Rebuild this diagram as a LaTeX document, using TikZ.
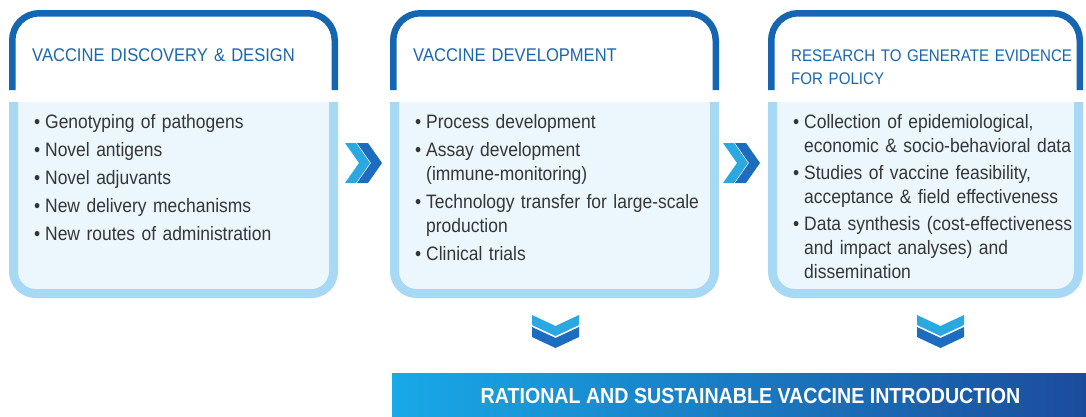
\documentclass[tikz,border=0pt]{standalone}
\usepackage{fontspec}
\setmainfont{Liberation Sans}[FakeStretch=0.9]

\definecolor{hdblue}{HTML}{1565B0}
\definecolor{hdtext}{HTML}{1A66AE}
\definecolor{bdblue}{HTML}{A8D9F4}
\definecolor{bdfill}{HTML}{EBF6FD}
\definecolor{txgray}{HTML}{363636}
\definecolor{chvlight}{HTML}{2AA8E2}
\definecolor{chvdark}{HTML}{1C6CC0}
\definecolor{barleft}{HTML}{18A9E8}
\definecolor{barmid}{HTML}{1C90D8}
\definecolor{barright}{HTML}{1B4C9C}

% narrower word gaps
\newcommand{\tightsp}{\spaceskip 0.21em\relax}
% one bullet line, wrapped lines hang under the text
\newcommand{\itm}[1]{\hangindent=11pt\hangafter=1\noindent\makebox[11pt][l]{\textbullet}#1\par}

\tikzset{
  fwd/.pic={
    \fill[chvlight](0,0)--(11,0)--(25,20)--(11,40)--(0,40)--(14,20)--cycle;
    \fill[chvdark](12,0)--(23,0)--(37,20)--(23,40)--(12,40)--(26,20)--cycle;},
  dwn/.pic={
    \fill[chvlight](0,0)--(23.5,11)--(47,0)--(47,10)--(23.5,21)--(0,10)--cycle;
    \fill[chvdark](0,12)--(23.5,23)--(47,12)--(47,22)--(23.5,33)--(0,22)--cycle;}
}

\begin{document}
\begin{tikzpicture}[x=1pt,y=-1pt,
  head/.style={draw=hdblue,line width=6.5pt,rounded corners=27pt},
  frame/.style={draw=bdblue,fill=bdfill,line width=9pt,rounded corners=22pt},
  title/.style={anchor=base west,inner sep=0pt,text width=320pt,align=left,text=hdtext,font={\fontsize{18.4}{23}\selectfont\tightsp}},
  items/.style={anchor=base west,inner sep=0pt,text width=300pt,align=left,text=txgray,font={\fontsize{19.4}{24}\selectfont\tightsp}},
  bartext/.style={inner sep=0pt,text=white,font=\fontsize{21.8}{26}\selectfont\bfseries}]
\useasboundingbox(0,0)rectangle(1086,416);
\fill[white](0,0)rectangle(1086,416);
% the three stages: blue title frame over a pale list panel
\foreach \l/\r in {9/338,390/719,768/1083}{
  \filldraw[frame](\l+4.5,102)--(\l+4.5,293.5)--(\r-4.5,293.5)--(\r-4.5,102);
  \draw[head](\l+3.25,90)--(\l+3.25,13.25)--(\r-3.25,13.25)--(\r-3.25,90);
}
\node[title](discovery)at(32,61){VACCINE DISCOVERY \& DESIGN};
\node[title](development)at(413,61){VACCINE DEVELOPMENT};
\node[title,font={\fontsize{16.8}{23}\selectfont\tightsp}](evidence)at(791,61){RESEARCH TO GENERATE EVIDENCE\newline FOR POLICY};

\node[items](discovery-list)at(34,128){%
  \setlength{\parskip}{4pt}%
  \itm{Genotyping of pathogens}
  \itm{Novel antigens}
  \itm{Novel adjuvants}
  \itm{New delivery mechanisms}
  \itm{New routes of administration}};
\node[items](development-list)at(415,128){%
  \setlength{\parskip}{4pt}%
  \itm{Process development}
  \itm{Assay development\newline (immune-monitoring)}
  \itm{Technology transfer for large-scale\newline production}
  \itm{Clinical trials}};
\node[items](evidence-list)at(793,128){%
  \setlength{\parskip}{3pt}%
  \itm{Collection of epidemiological,\newline economic \& socio-behavioral data}
  \itm{Studies of vaccine feasibility,\newline acceptance \& field effectiveness}
  \itm{Data synthesis (cost-effectiveness\newline and impact analyses) and\newline dissemination}};

% chevrons between and below the stages
\pic at(345,143){fwd};
\pic at(723,143){fwd};
\pic at(532,315){dwn};
\pic at(917,315){dwn};

\shade[left color=barleft,middle color=barmid,right color=barright](392,373)rectangle(1086,416);
\node[bartext](intro)at(750.5,395.5){RATIONAL AND SUSTAINABLE VACCINE INTRODUCTION};
\end{tikzpicture}
\end{document}
